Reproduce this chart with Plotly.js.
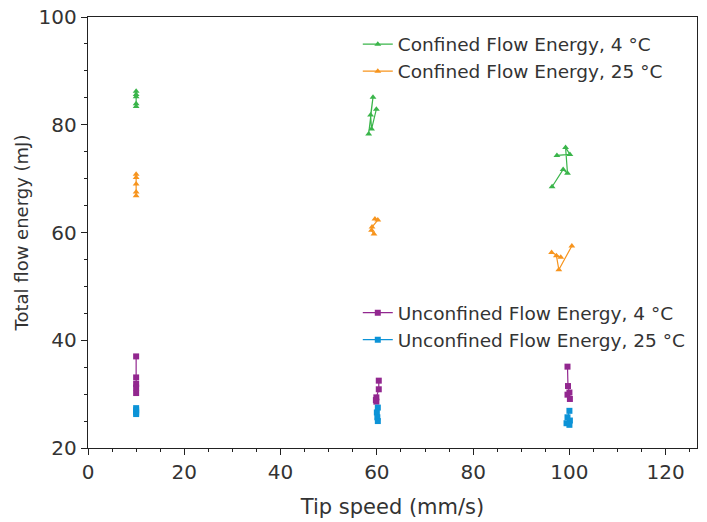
<!DOCTYPE html>
<html><head><meta charset="utf-8">
<script src="https://cdn.plot.ly/plotly-3.0.1.min.js"></script>
<style>body{margin:0;}#chart{width:707px;height:522px;}</style>
</head><body><div id="chart"></div>
<script>
// Tip speed (mm/s) and total flow energy (mJ); null separates the three speed groups
const confined4X  = [10,10,10,10,10, null, 58.3,59.2,58.7,58.9,59.9, null, 96.4,98.7,99.6,99.2,100.1,97.4];
const confined4Y  = [86.2,85.6,85.2,83.9,83.4, null, 78.3,85.1,81.8,79.2,82.9, null, 68.5,71.7,71.0,75.8,74.5,74.3];
const confined25X = [10,10,10,10,10, null, 59.6,60.2,59.0,58.9,59.4, null, 96.3,98.2,97.3,97.8,100.5];
const confined25Y = [70.8,70.2,69.0,67.5,66.8, null, 62.5,62.3,61.0,60.4,59.7, null, 56.3,55.4,55.7,53.1,57.5];
const unconf4X    = [10,10,10,10,10, null, 60.4,60.4,59.9,59.8,59.9, null, 99.6,99.7,100.0,99.6,100.1];
const unconf4Y    = [37.0,33.1,31.9,31.2,30.2, null, 32.5,30.9,29.4,28.9,28.6, null, 35.1,31.5,30.3,29.9,29.1];
const unconf25X   = [10,10,10,10, null, 60.2,60.0,60.1,60.2, null, 100.0,99.6,100.1,99.4,100.0];
const unconf25Y   = [27.4,27.0,26.6,26.3, null, 27.5,26.6,25.7,25.0, null, 26.9,25.7,25.1,24.6,24.3];
const names = ["Confined Flow Energy, 4 °C","Confined Flow Energy, 25 °C","Unconfined Flow Energy, 4 °C","Unconfined Flow Energy, 25 °C"];
const colors = ["#3ab54a","#f7941d","#92278f","#0c93d7"];

function tr(x,y,i,sym,leg){
  return {x:x,y:y,name:names[i],type:'scatter',mode:'lines+markers',connectgaps:false,
    line:{color:colors[i],width:1.2},marker:{color:colors[i],symbol:sym,size:6},legend:leg};
}
const data = [
  tr(confined4X,confined4Y,0,'triangle-up','legend'),
  tr(confined25X,confined25Y,1,'triangle-up','legend'),
  tr(unconf4X,unconf4Y,2,'square','legend2'),
  tr(unconf25X,unconf25Y,3,'square','legend2')
];
const FAM = '"DejaVu Sans", sans-serif';
const font = {family:FAM, color:'#333', size:18};
const axisBase = {showline:true,linecolor:'#222',linewidth:1.3,mirror:true,showgrid:false,zeroline:false,
  ticks:'outside',ticklen:6,tickcolor:'#222',tickfont:{family:FAM,size:20,color:'#333'}};
const layout = {
  width:707,height:522,margin:{l:88,r:10,t:17,b:74},
  paper_bgcolor:'#fff',plot_bgcolor:'#fff',font:font,showlegend:true,
  xaxis:Object.assign({},axisBase,{range:[0,126.5],tick0:0,dtick:20,
    minor:{ticks:'outside',dtick:5,ticklen:3,tickcolor:'#222'},
    title:{text:'Tip speed (mm/s)',font:{family:FAM,size:21,color:'#333'},standoff:16}}),
  yaxis:Object.assign({},axisBase,{range:[20,100],tick0:20,dtick:20,
    minor:{ticks:'outside',dtick:5,ticklen:3,tickcolor:'#222'},
    title:{text:'Total flow energy (mJ)',font:{family:FAM,size:18,color:'#333'},standoff:5}}),
  legend:{x:0.443,y:0.98,xanchor:'left',yanchor:'top',bgcolor:'rgba(0,0,0,0)',font:{family:FAM,size:18.5,color:'#333'},tracegroupgap:0},
  legend2:{x:0.443,y:0.357,xanchor:'left',yanchor:'top',bgcolor:'rgba(0,0,0,0)',font:{family:FAM,size:18.5,color:'#333'},tracegroupgap:0}
};
Plotly.newPlot('chart',data,layout,{displayModeBar:false,staticPlot:true});
</script></body></html>
